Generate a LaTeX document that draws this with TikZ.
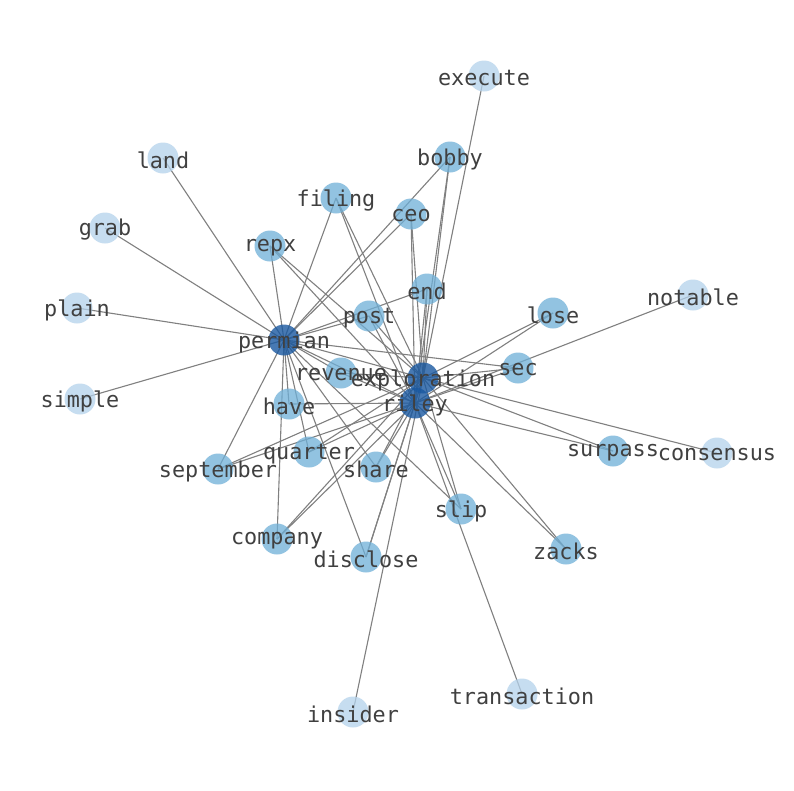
\documentclass[tikz,border=0pt]{standalone}
\usepackage{fontspec}
\setmonofont{DejaVu Sans Mono}
\definecolor{hubc}{RGB}{25,88,160}
\definecolor{midc}{RGB}{110,175,215}
\definecolor{lowc}{RGB}{180,210,235}
\definecolor{edgec}{RGB}{128,128,128}
\definecolor{txtc}{RGB}{64,64,64}
\begin{document}
\begin{tikzpicture}[x=1pt,y=-1pt,
  vtx/.style={circle,minimum size=31pt,inner sep=0pt,draw=none},
  hub/.style={vtx,fill=hubc,fill opacity=0.8},
  mid/.style={vtx,fill=midc,fill opacity=0.75},
  low/.style={vtx,fill=lowc,fill opacity=0.75},
  lbl/.style={text=txtc,font=\ttfamily\fontsize{21.8}{24}\selectfont,inner sep=0pt,yshift=-2pt},
  edge/.style={draw=edgec,line width=1.1pt}]
\useasboundingbox (0,0) rectangle (794,790);
\fill[white] (0,0) rectangle (794,790);
% vertex coordinates
\foreach \n/\x/\y in {execute/484/76,bobby/450/157,land/163/158,filing/336/198,ceo/411/214,
  grab/105/228,repx/270/246,end/427/289,notable/693/295,plain/77/308,lose/553/313,post/369/316,
  permian/284/340,revenue/341/373,exploration/423/378,sec/518/368,simple/80/399,have/289/404,
  riley/415/403,quarter/309/452,surpass/613/451,consensus/717/453,september/218/469,share/376/467,
  slip/461/509,company/277/539,disclose/366/557,zacks/566/549,transaction/522/694,insider/353/712}
  {\coordinate (c-\n) at (\x,\y);}
% edges
\foreach \a in {land,grab,plain,simple,repx,filing,ceo,bobby,post,end,revenue,have,quarter,september,share,company,disclose,slip,sec,exploration,riley}
  {\draw[edge] (c-permian) -- (c-\a);}
\foreach \a in {execute,consensus,bobby,ceo,filing,repx,end,post,lose,sec,surpass,revenue,quarter,september,share,company,disclose,slip,zacks,insider}
  {\draw[edge] (c-exploration) -- (c-\a);}
\foreach \a in {notable,transaction,bobby,ceo,filing,repx,end,post,lose,sec,surpass,revenue,have,quarter,september,share,company,disclose,slip,zacks,exploration}
  {\draw[edge] (c-riley) -- (c-\a);}
% vertices
\foreach \n in {execute,land,grab,notable,plain,simple,consensus,transaction,insider}
  {\node[low] (v-\n) at (c-\n) {};}
\foreach \n in {bobby,filing,ceo,repx,end,lose,post,revenue,sec,have,quarter,surpass,september,share,slip,company,disclose,zacks}
  {\node[mid] (v-\n) at (c-\n) {};}
\foreach \n in {permian,exploration,riley}
  {\node[hub] (v-\n) at (c-\n) {};}
% labels
\foreach \n in {execute,bobby,land,filing,ceo,grab,repx,end,notable,plain,lose,post,permian,revenue,exploration,sec,simple,have,riley,quarter,surpass,consensus,september,share,slip,company,disclose,zacks,transaction,insider}
  {\node[lbl] (t-\n) at (c-\n) {\n};}
\end{tikzpicture}
\end{document}
